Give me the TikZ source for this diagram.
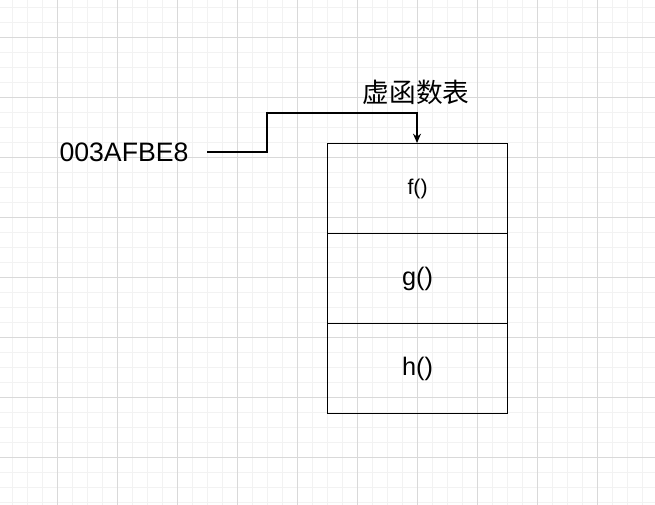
\documentclass[tikz,border=0pt]{standalone}
\usepackage{fontspec}
\setmainfont{Liberation Sans}
\newfontfamily\cjk{Noto Sans CJK SC}
\usetikzlibrary{arrows.meta}
\begin{document}
\begin{tikzpicture}[x=0.75pt,y=-0.75pt,
  cell/.style={draw,line width=0.9pt,minimum width=180*0.75pt,minimum height=90*0.75pt,inner sep=0,anchor=north west,font=\fontsize{19pt}{22pt}\selectfont},
  lbl/.style={font=\fontsize{15pt}{18pt}\selectfont,inner sep=0}]
\useasboundingbox (0,0) rectangle (655,505);
\foreach \x in {12,27,...,655} \draw[line width=0.6pt,black!5] (\x,0) -- (\x,505);
\foreach \y in {7,22,...,505} \draw[line width=0.6pt,black!5] (0,\y) -- (655,\y);
\foreach \x in {57,117,...,655} \draw[line width=0.6pt,black!15] (\x,0) -- (\x,505);
\foreach \y in {37,97,...,505} \draw[line width=0.6pt,black!15] (0,\y) -- (655,\y);
\node[cell,font=\fontsize{16pt}{18pt}\selectfont] (f) at (327,143) {f()};
\node[cell] (g) at (327,233) {g()};
\node[cell] (h) at (327,323) {h()};
\node[lbl,font=\fontsize{20pt}{24pt}\selectfont] (addr) at (124,152) {003AFBE8};
\node[lbl,font=\cjk\fontsize{20pt}{24pt}\selectfont] (t) at (416,92) {虚函数表};
\coordinate (s) at (207,152);
\draw[line width=0.9pt,-{Stealth[length=7pt,width=6pt]}] (s) -- (267,152) -- (267,113) -- (417,113) -- (f.north -| 417,0);
\end{tikzpicture}
\end{document}
